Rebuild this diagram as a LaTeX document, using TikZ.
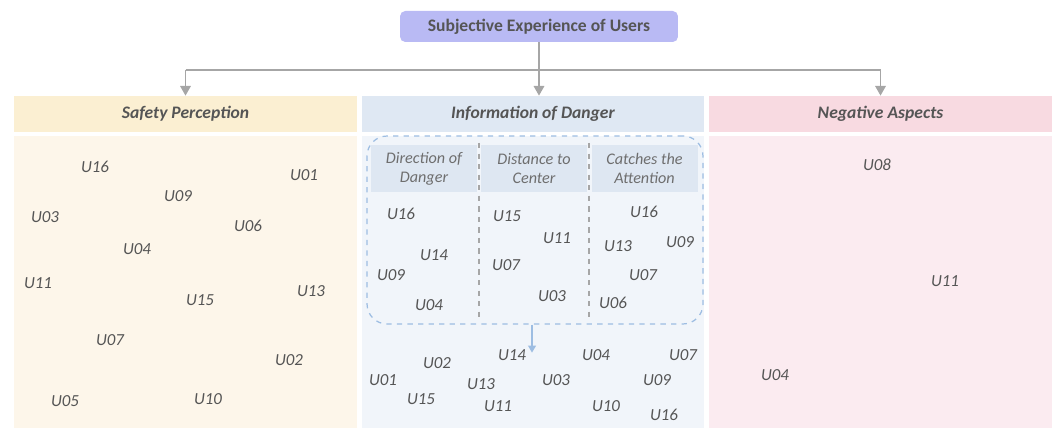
\documentclass[tikz,border=0pt]{standalone}
\usepackage{fontspec}
\setmainfont{Carlito}
\usepackage{tikz}
\usetikzlibrary{arrows.meta,positioning,calc}
\definecolor{txtgray}{HTML}{555555}
\definecolor{lingray}{HTML}{A6A6A6}
\definecolor{titlefill}{HTML}{B9BAF4}
\definecolor{safehead}{HTML}{FBEFD2}
\definecolor{safebody}{HTML}{FDF6EA}
\definecolor{infohead}{HTML}{DFE8F3}
\definecolor{infobody}{HTML}{F1F5FA}
\definecolor{subhead}{HTML}{DEE7F2}
\definecolor{neghead}{HTML}{F8DAE1}
\definecolor{negbody}{HTML}{FBEBF0}
\definecolor{grpline}{HTML}{9DBDE2}
\begin{document}
\begin{tikzpicture}[x=0.02cm,y=-0.02cm,
    title/.style={fill=titlefill,draw=none,rounded corners=3pt,text=txtgray,minimum width=5.56cm,minimum height=0.62cm,font=\fontsize{10}{12}\selectfont\bfseries},
    head/.style={draw=none,text=txtgray,minimum width=6.86cm,minimum height=0.72cm,font=\fontsize{10}{12}\selectfont\bfseries\itshape},
    body/.style={draw=none,minimum width=6.86cm,minimum height=5.84cm},
    subhead/.style={fill=subhead,draw=none,text=txtgray!85,align=center,minimum width=2.12cm,minimum height=0.94cm,font=\fontsize{9.2}{11}\selectfont\itshape},
    usr/.style={text=txtgray,inner sep=0pt,font=\fontsize{9.6}{11}\selectfont\itshape},
    conn/.style={lingray,line width=0.9pt},
    arr/.style={conn,-{Triangle[length=5.5pt,width=6pt]}}]
\useasboundingbox (0,0) rectangle (1057,428);
%
% the three columns
\node[body,fill=safebody] (B1) at (185.5,282) {};
\node[body,fill=infobody] (B2) at (533,282) {};
\node[body,fill=negbody]  (B3) at (880.5,282) {};
\node[head,fill=safehead] (H1) at (185.5,114) {Safety Perception};
\node[head,fill=infohead] (H2) at (533,114) {Information of Danger};
\node[head,fill=neghead]  (H3) at (880.5,114) {Negative Aspects};
%
% top node and the tree of arrows
\node[title] (T) at (539,26.5) {Subjective Experience of Users};
\coordinate (J) at (539,70);
\draw[conn] (T.south) -- (J);
\draw[conn] (H1.north |- J) -- (H3.north |- J);
\draw[arr] (H1.north |- J) -- (H1.north);
\draw[arr] (J) -- (H2.north -| J);
\draw[arr] (H3.north |- J) -- (H3.north);
%
% grouped kinds of danger information
\node[draw=grpline,dashed,line width=0.7pt,rounded corners=0.4cm,minimum width=6.72cm,minimum height=3.76cm] (G) at (535,230) {};
\node[subhead] (D1) at (424,168.5) {Direction of\\Danger};
\node[subhead] (D2) at (534,168.5) {Distance to\\Center};
\node[subhead] (D3) at (644.5,168.5) {Catches the\\Attention};
\foreach \x in {479,589}
  \draw[lingray,dashed,line width=0.6pt] (\x,143) -- (\x,322);
\draw[grpline,line width=0.8pt,-{Triangle[length=4pt,width=4.5pt]}] ([xshift=-0.06cm]G.south) -- ++(0,28);
%
% Safety Perception
\node[usr] (S1)  at (95,167)  {U16};
\node[usr] (S2)  at (304,175) {U01};
\node[usr] (S3)  at (178,196) {U09};
\node[usr] (S4)  at (45,217)  {U03};
\node[usr] (S5)  at (248,226) {U06};
\node[usr] (S6)  at (137,249) {U04};
\node[usr] (S7)  at (38,283)  {U11};
\node[usr] (S8)  at (200,300) {U15};
\node[usr] (S9)  at (311,291) {U13};
\node[usr] (S10) at (110,340) {U07};
\node[usr] (S11) at (289,360) {U02};
\node[usr] (S12) at (65,401)  {U05};
\node[usr] (S13) at (208,399) {U10};
%
% Information of Danger
\node[usr] (I1)  at (401,214) {U16};
\node[usr] (I2)  at (434,255) {U14};
\node[usr] (I3)  at (391,275) {U09};
\node[usr] (I4)  at (429,305) {U04};
\node[usr] (I5)  at (507,216) {U15};
\node[usr] (I6)  at (557,238) {U11};
\node[usr] (I7)  at (506,265) {U07};
\node[usr] (I8)  at (552,296) {U03};
\node[usr] (I9)  at (644,212) {U16};
\node[usr] (I10) at (618,246) {U13};
\node[usr] (I11) at (680,242) {U09};
\node[usr] (I12) at (643,275) {U07};
\node[usr] (I13) at (613,303) {U06};
\node[usr] (I14) at (512,355) {U14};
\node[usr] (I15) at (596,355) {U04};
\node[usr] (I16) at (683,355) {U07};
\node[usr] (I17) at (437,363) {U02};
\node[usr] (I18) at (383,380) {U01};
\node[usr] (I19) at (481,384) {U13};
\node[usr] (I20) at (556,380) {U03};
\node[usr] (I21) at (657,380) {U09};
\node[usr] (I22) at (421,399) {U15};
\node[usr] (I23) at (498,406) {U11};
\node[usr] (I24) at (606,406) {U10};
\node[usr] (I25) at (664,415) {U16};
%
% Negative Aspects
\node[usr] (N1) at (877,165) {U08};
\node[usr] (N2) at (945,281) {U11};
\node[usr] (N3) at (775,375) {U04};
\end{tikzpicture}
\end{document}
